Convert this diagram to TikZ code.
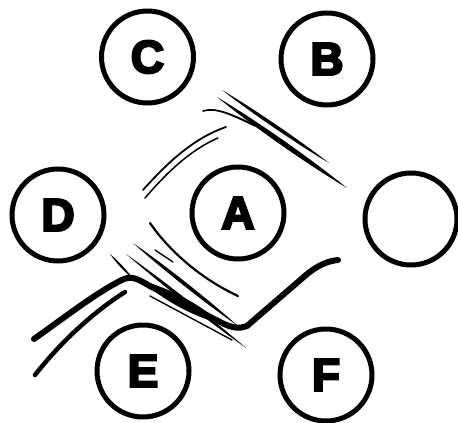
\documentclass[tikz,border=0pt]{standalone}
\usepackage{fontspec}
\newfontfamily\lblfont{Liberation Sans}[BoldFeatures={FakeBold=5}]
\usetikzlibrary{calc}
\tikzset{
  ring/.style={circle,draw=black,line width=5pt,minimum size=92pt,inner sep=0pt,
    font=\lblfont\bfseries\fontsize{46}{46}\selectfont},
  stroke/.style={draw=black,line cap=round,line join=round},
}
\newcommand{\tapstroke}[3]{%
  \fill[black] (#1) .. controls ($(#1)!0.3!(#2)!#3!90:(#2)$) and ($(#1)!0.7!(#2)!#3!90:(#2)$) .. (#2)
     .. controls ($(#1)!0.7!(#2)!#3!-90:(#2)$) and ($(#1)!0.3!(#2)!#3!-90:(#2)$) .. (#1) -- cycle;}
\begin{document}
\begin{tikzpicture}[x=1pt,y=-1pt]
\useasboundingbox (0,0) rectangle (458,423);
% circles
\node[ring] (C) at (147.5,57) {C};
\node[ring] (B) at (327,59) {B};
\node[ring] (D) at (58,215) {D};
\node[ring] (A) at (238,213) {A};
\node[ring] (X) at (411,219) {};
\node[ring] (E) at (143,371) {E};
\node[ring] (F) at (326,375) {F};
% upper-right strokes
\coordinate (u1a) at (222,90);  \coordinate (u1b) at (329,163);
\coordinate (u2a) at (217,97);  \coordinate (u2b) at (347,188);
\tapstroke{u1a}{u1b}{2.4pt}
\tapstroke{u2a}{u2b}{3.4pt}
\draw[stroke,line width=1.6pt] (203,111) .. controls (215,107) and (232,114) .. (258,127);
\draw[stroke,line width=1.3pt] (212,110) .. controls (222,110) and (238,118) .. (255,126);
% upper-left arcs
\draw[stroke,line width=1.8pt] (143,190) .. controls (168,162) and (194,138) .. (226,127);
\draw[stroke,line width=1.5pt] (145,198) .. controls (164,176) and (188,151) .. (218,138);
% lower-middle thin strokes
\coordinate (t1a) at (110,254); \coordinate (t1b) at (134,280);
\tapstroke{t1a}{t1b}{1.5pt}
\coordinate (t2a) at (126,254); \coordinate (t2b) at (246,348);
\tapstroke{t2a}{t2b}{2.2pt}
\coordinate (t3a) at (133,243); \coordinate (t3b) at (238,326);
\tapstroke{t3a}{t3b}{2.5pt}
\draw[stroke,line width=2.2pt] (150,223) .. controls (165,245) and (195,276) .. (238,296);
\draw[stroke,line width=1.3pt] (155,250) -- (173,262);
\draw[stroke,line width=1.4pt] (150,296) -- (232,340);
% main thick line
\coordinate (m0) at (34,339);
\coordinate (m1) at (124,279);
\coordinate (m2) at (247,326);
\coordinate (m3) at (338,260);
\draw[stroke,line width=6pt] (m0) .. controls (65,317) and (100,290) .. (m1)
  .. controls (132,276) and (138,279) .. (148,285) -- (222,323)
  .. controls (232,328) and (240,329) .. (m2)
  -- (306,275) .. controls (318,265) and (328,261) .. (m3);
\coordinate (b1) at (142,281); \coordinate (b2) at (222,324);
\tapstroke{b1}{b2}{7pt}
% lower second line
\draw[stroke,line width=4.5pt] (35,375) .. controls (60,343) and (92,313) .. (125,292);
\end{tikzpicture}
\end{document}
